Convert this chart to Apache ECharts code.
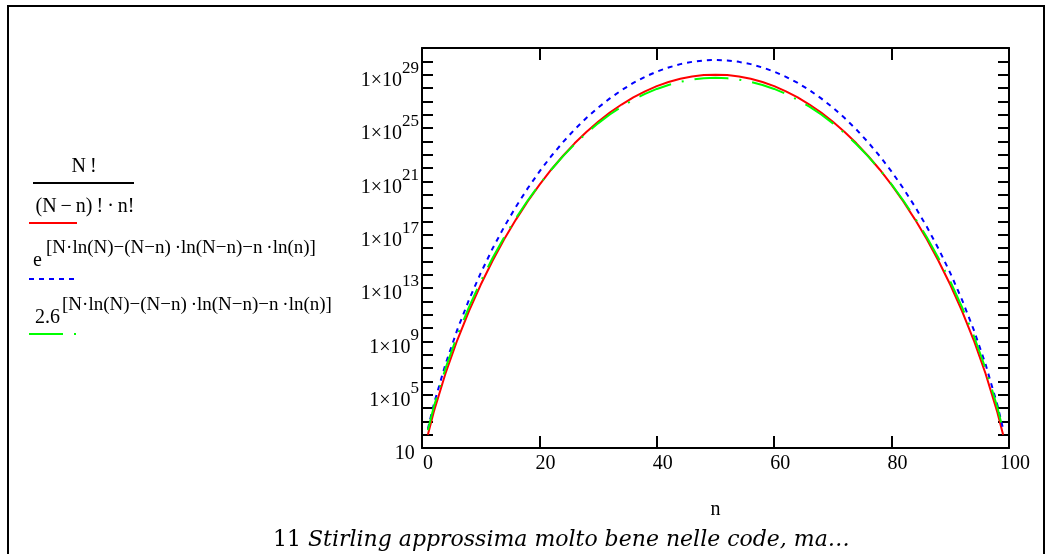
<!DOCTYPE html>
<html>
<head>
<meta charset="utf-8">
<script src="https://cdn.jsdelivr.net/npm/echarts@6/dist/echarts.min.js"></script>
<style>
  html, body { margin: 0; padding: 0; background: #fff; }
  #chart { width: 1048px; height: 554px; }
</style>
</head>
<body>
<div id="chart"></div>
<script>
// n values sampled along the x axis
const nValues = [1, 2, 4, 6, 8, 10, 12, 14, 16, 18, 20, 22, 24, 26, 28, 30, 32, 34, 36, 38, 40, 42, 44, 46, 48, 50,
  52, 54, 56, 58, 60, 62, 64, 66, 68, 70, 72, 74, 76, 78, 80, 82, 84, 86, 88, 90, 92, 94, 96, 98, 99]

// curves, stored as powers of ten
const binomialExp = [2.00, 3.70, 6.59, 9.08, 11.27, 13.24, 15.02, 16.65, 18.13, 19.49, 20.73, 21.87, 22.90, 23.85, 24.70,
  25.47, 26.16, 26.76, 27.30, 27.75, 28.14, 28.45, 28.69, 28.87, 28.97, 29.00, 28.97, 28.87, 28.69, 28.45, 28.14, 27.75,
  27.30, 26.76, 26.16, 25.47, 24.70, 23.85, 22.90, 21.87, 20.73, 19.49, 18.13, 16.65, 15.02, 13.24, 11.27, 9.08, 6.59,
  3.70, 2.00]
const stirlingEExp = [2.43, 4.26, 7.29, 9.86, 12.11, 14.12, 15.94, 17.59, 19.09, 20.47, 21.73, 22.88, 23.93, 24.89, 25.75,
  26.53, 27.22, 27.84, 28.38, 28.84, 29.23, 29.54, 29.79, 29.96, 30.07, 30.10, 30.07, 29.96, 29.79, 29.54, 29.23, 28.84,
  28.38, 27.84, 27.22, 26.53, 25.75, 24.89, 23.93, 22.88, 21.73, 20.47, 19.09, 17.59, 15.94, 14.12, 12.11, 9.86, 7.29,
  4.26, 2.43]
const stirling26Exp = [2.33, 4.07, 6.97, 9.42, 11.57, 13.49, 15.23, 16.81, 18.24, 19.56, 20.77, 21.87, 22.87, 23.78, 24.61,
  25.35, 26.01, 26.60, 27.11, 27.56, 27.93, 28.23, 28.46, 28.63, 28.73, 28.76, 28.73, 28.63, 28.46, 28.23, 27.93, 27.56,
  27.11, 26.60, 26.01, 25.35, 24.61, 23.78, 22.87, 21.87, 20.77, 19.56, 18.24, 16.81, 15.23, 13.49, 11.57, 9.42, 6.97,
  4.07, 2.33]

// y axis: a tick at every decade, a label every fourth
const yTickExponents = [1, 2, 3, 4, 5, 6, 7, 8, 9, 10, 11, 12, 13, 14, 15, 16, 17, 18, 19, 20, 21, 22, 23, 24, 25, 26,
  27, 28, 29, 30, 31]
const yLabelExponents = [1, 5, 9, 13, 17, 21, 25, 29]

const seriesNames = ['N!/((N−n)!·n!)', 'e^[N·ln(N)−(N−n)·ln(N−n)−n·ln(n)]', '2.6^[N·ln(N)−(N−n)·ln(N−n)−n·ln(n)]']
const exponentText = '[N·ln(N)−(N−n)\u2009·ln(N−n)−n\u2009·ln(n)]'
const captionNumber = '11 '
const captionText = 'Stirling approssima molto bene nelle code, ma…'

const SERIF = '"Liberation Serif", "Times New Roman", serif'
const toPoints = (exps) => nValues.map((n, i) => [n, Math.pow(10, exps[i])])
const pow10 = (e) => Math.pow(10, e)

const black = '#000'
const axisLine = { show: true, onZero: false, lineStyle: { color: black, width: 2 } }
const tick = (len) => ({ show: true, inside: true, length: len, lineStyle: { color: black, width: 2 } })

const chart = echarts.init(document.getElementById('chart'), null, { renderer: 'canvas' })

const yBase = {
  type: 'log', logBase: 10, min: 10, max: 1e31,
  axisLine,
  axisTick: { ...tick(11), customValues: yTickExponents.map(pow10) },
  splitLine: { show: false }, minorTick: { show: false },
}

chart.setOption({
  backgroundColor: '#fff',
  animation: false,
  grid: { left: 422, right: 39, top: 48, bottom: 106, containLabel: false },
  xAxis: [
    { type: 'value', min: 0, max: 100, interval: 20, position: 'bottom',
      name: 'n', nameLocation: 'middle', nameGap: 52,
      nameTextStyle: { fontFamily: SERIF, fontSize: 20, color: black },
      axisLine, axisTick: tick(12), splitLine: { show: false },
      axisLabel: { fontFamily: SERIF, fontSize: 20, color: black, margin: 6, padding: [0, 0, 0, 12],
        showMinLabel: true, showMaxLabel: true } },
    { type: 'value', min: 0, max: 100, interval: 20, position: 'top',
      axisLine, axisTick: tick(12), splitLine: { show: false }, axisLabel: { show: false } },
  ],
  yAxis: [
    { ...yBase, position: 'left',
      axisLabel: {
        margin: 3, hideOverlap: false,
        customValues: yLabelExponents.map(pow10),
        formatter: (v) => {
          const e = Math.round(Math.log10(v))
          return e === 1 ? '{b|10}{s| }' : '{b|1×10}{s|' + e + '}'
        },
        rich: {
          b: { fontFamily: SERIF, fontSize: 20, lineHeight: 20, padding: [12, 0, 0, 0], color: black },
          s: { fontFamily: SERIF, fontSize: 17, lineHeight: 20, padding: [0, 0, 12, 0], color: black },
        },
      } },
    { ...yBase, position: 'right', axisLabel: { show: false } },
  ],
  series: [
    { name: seriesNames[0], type: 'line', data: toPoints(binomialExp), symbol: 'none',
      lineStyle: { color: '#ff0000', width: 2 } },
    { name: seriesNames[1], type: 'line', data: toPoints(stirlingEExp), symbol: 'none',
      lineStyle: { color: '#0000ff', width: 2, type: [5, 5] } },
    { name: seriesNames[2], type: 'line', data: toPoints(stirling26Exp), symbol: 'none',
      lineStyle: { color: '#00ff00', width: 2, type: [34, 11, 2, 11] } },
  ],
  graphic: [
    // outer frame
    { type: 'rect', shape: { x: 8, y: 6, width: 1036, height: 600 },
      style: { fill: null, stroke: black, lineWidth: 2 }, silent: true },
    // legend: binomial
    { type: 'text', x: 84, y: 167, style: { text: 'N\u2009!', font: '20px ' + SERIF, fill: black, align: 'center', verticalAlign: 'middle' } },
    { type: 'line', shape: { x1: 33, y1: 183, x2: 134, y2: 183 }, style: { stroke: black, lineWidth: 2 } },
    { type: 'text', x: 85, y: 207, style: { text: '(N\u2009−\u2009n)\u2009!\u2009·\u2009n!', font: '20px ' + SERIF, fill: black, align: 'center', verticalAlign: 'middle' } },
    { type: 'line', shape: { x1: 29, y1: 223, x2: 77, y2: 223 }, style: { stroke: '#ff0000', lineWidth: 2 } },
    // legend: e^[...]
    { type: 'text', x: 33, y: 261, style: { text: 'e', font: '20px ' + SERIF, fill: black, align: 'left', verticalAlign: 'middle' } },
    { type: 'text', x: 46, y: 248, style: { text: exponentText, font: '19px ' + SERIF, fill: black, align: 'left', verticalAlign: 'middle' } },
    { type: 'line', shape: { x1: 29, y1: 279, x2: 77, y2: 279 }, style: { stroke: '#0000ff', lineWidth: 2, lineDash: [5, 5] } },
    // legend: 2.6^[...]
    { type: 'text', x: 35, y: 318, style: { text: '2.6', font: '20px ' + SERIF, fill: black, align: 'left', verticalAlign: 'middle' } },
    { type: 'text', x: 62, y: 305, style: { text: exponentText, font: '19px ' + SERIF, fill: black, align: 'left', verticalAlign: 'middle' } },
    { type: 'line', shape: { x1: 29, y1: 334, x2: 77, y2: 334 }, style: { stroke: '#00ff00', lineWidth: 2, lineDash: [34, 11, 2, 11] } },
    // caption
    { type: 'text', x: 273, y: 540, style: {
        text: '{a|' + captionNumber + '}{b|' + captionText + '}', fill: black, align: 'left', verticalAlign: 'middle',
        rich: {
          a: { fontFamily: '"DejaVu Serif", serif', fontSize: 22, color: black },
          b: { fontFamily: '"DejaVu Serif", serif', fontSize: 22, fontStyle: 'italic', color: black },
        } } },
  ],
})
</script>
</body>
</html>
